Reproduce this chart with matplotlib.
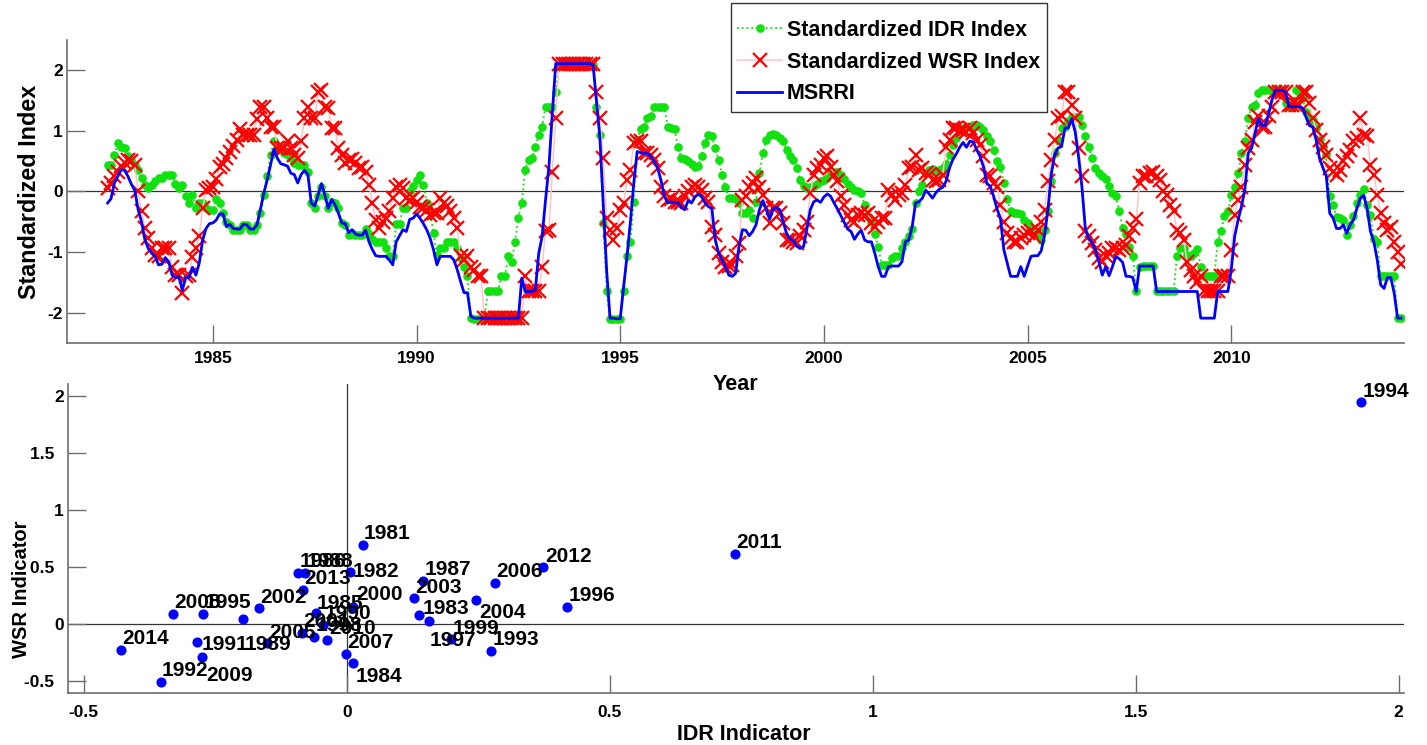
import numpy as np
import pandas as pd
import matplotlib
matplotlib.use('Agg')
import matplotlib.pyplot as plt
from matplotlib.patches import Rectangle

plt.rcParams['font.family'] = ['Liberation Sans', 'DejaVu Sans']
plt.rcParams['font.weight'] = 'bold'
plt.rcParams['axes.unicode_minus'] = False

# monthly series, June 1982 -> March 2014
msrri = [
    -0.19, -0.12, 0.14, 0.25, 0.36, 0.35, 0.25, 0.12, 0.02, -0.30,
    -0.50, -0.80, -0.94, -1.02, -1.07, -1.21, -1.20, -1.09, -1.16, -1.38,
    -1.42, -1.40, -1.63, -1.42, -1.42, -1.25, -1.38, -1.18, -0.80, -0.61,
    -0.53, -0.52, -0.47, -0.37, -0.37, -0.58, -0.54, -0.61, -0.62, -0.62,
    -0.54, -0.55, -0.62, -0.62, -0.55, -0.30, -0.03, 0.19, 0.44, 0.70,
    0.55, 0.46, 0.44, 0.42, 0.30, 0.28, 0.14, 0.28, 0.35, 0.28,
    -0.19, -0.24, -0.06, 0.13, -0.06, -0.28, -0.13, -0.22, -0.36, -0.52,
    -0.53, -0.68, -0.63, -0.70, -0.72, -0.72, -0.64, -0.83, -0.96, -1.06,
    -1.07, -1.07, -1.07, -1.13, -1.21, -0.83, -0.73, -0.63, -0.66, -0.46,
    -0.44, -0.37, -0.44, -0.53, -0.63, -0.77, -0.96, -1.21, -1.07, -1.07,
    -1.07, -1.07, -1.13, -1.29, -1.49, -1.67, -1.67, -2.06, -2.09, -2.09,
    -2.09, -2.09, -2.09, -2.09, -2.09, -2.09, -2.09, -2.09, -2.09, -2.09,
    -2.09, -2.09, -1.43, -1.65, -1.65, -1.65, -1.63, -1.02, -0.74, -0.14,
    0.41, 1.29, 2.11, 2.11, 2.11, 2.11, 2.11, 2.11, 2.11, 2.11,
    2.11, 2.11, 2.11, 2.09, 1.50, 0.90, -0.20, -1.30, -2.09, -2.09,
    -2.10, -2.10, -1.57, -1.07, -0.50, 0.14, 0.66, 0.64, 0.63, 0.63,
    0.58, 0.50, 0.39, 0.19, -0.08, -0.19, -0.17, -0.19, -0.18, -0.26,
    -0.30, -0.15, -0.19, -0.09, -0.04, -0.09, -0.19, -0.25, -0.28, -0.80,
    -1.02, -1.13, -1.24, -1.38, -1.40, -1.35, -0.91, -0.63, -0.64, -0.73,
    -0.66, -0.55, -0.30, -0.15, -0.29, -0.46, -0.29, -0.26, -0.30, -0.50,
    -0.69, -0.78, -0.81, -0.90, -0.94, -0.91, -0.61, -0.30, -0.17, -0.14,
    -0.18, -0.09, -0.04, -0.08, -0.19, -0.29, -0.40, -0.51, -0.62, -0.66,
    -0.79, -0.70, -0.64, -0.80, -0.83, -0.83, -1.02, -1.24, -1.40, -1.40,
    -1.24, -1.23, -1.23, -1.23, -1.16, -0.83, -0.80, -0.58, -0.19, -0.17,
    -0.11, 0.02, -0.04, -0.11, -0.02, 0.04, 0.07, 0.17, 0.39, 0.53,
    0.62, 0.73, 0.81, 0.73, 0.83, 0.82, 0.69, 0.58, 0.41, 0.13,
    0.09, -0.08, -0.29, -0.44, -0.96, -1.18, -1.40, -1.40, -1.40, -1.24,
    -1.40, -1.23, -1.07, -1.06, -1.06, -0.98, -0.72, -0.30, 0.30, 0.61,
    0.72, 0.74, 1.05, 1.05, 1.20, 0.99, 0.58, 0.08, -0.61, -0.77,
    -0.84, -0.96, -1.16, -1.38, -1.24, -1.39, -1.24, -1.07, -1.11, -1.17,
    -1.40, -1.40, -1.42, -1.65, -1.23, -1.23, -1.23, -1.23, -1.23, -1.65,
    -1.65, -1.65, -1.65, -1.65, -1.65, -1.65, -1.65, -1.65, -1.65, -1.65,
    -1.65, -1.65, -2.09, -2.09, -2.09, -2.09, -2.09, -1.65, -1.65, -1.65,
    -1.65, -1.29, -0.74, -0.47, -0.25, 0.03, 0.63, 0.72, 0.96, 1.21,
    1.09, 1.09, 1.28, 1.52, 1.67, 1.67, 1.67, 1.64, 1.40, 1.40,
    1.40, 1.40, 1.38, 1.23, 1.09, 1.06, 0.85, 0.55, 0.39, 0.25,
    -0.36, -0.44, -0.61, -0.61, -0.55, -0.69, -0.55, -0.47, -0.28, -0.11,
    -0.06, -0.28, -0.66, -0.83, -1.13, -1.54, -1.60, -1.42, -1.42, -1.68,
    -2.09, -2.09,
]

idr = [
    0.44, 0.44, 0.60, 0.80, 0.74, 0.72, 0.58, 0.52, 0.44, 0.36,
    0.22, 0.10, 0.06, 0.10, 0.17, 0.22, 0.22, 0.27, 0.27, 0.27,
    0.13, 0.06, 0.11, -0.08, -0.19, -0.06, -0.28, -0.19, -0.19, -0.28,
    -0.30, -0.30, -0.13, -0.19, -0.36, -0.50, -0.55, -0.63, -0.63, -0.63,
    -0.55, -0.55, -0.63, -0.63, -0.55, -0.36, -0.06, 0.25, 0.61, 0.83,
    0.72, 0.72, 0.63, 0.61, 0.55, 0.47, 0.44, 0.44, 0.44, 0.33,
    -0.19, -0.28, -0.08, 0.08, -0.08, -0.28, -0.17, -0.19, -0.28, -0.52,
    -0.55, -0.72, -0.69, -0.72, -0.72, -0.72, -0.62, -0.70, -0.79, -0.83,
    -0.83, -0.83, -0.94, -1.06, -1.07, -0.53, -0.53, -0.28, -0.28, 0.00,
    0.09, 0.19, 0.28, 0.11, -0.19, -0.33, -0.69, -1.05, -0.94, -0.94,
    -0.83, -0.83, -0.83, -0.94, -1.09, -1.24, -1.40, -2.09, -2.10, -2.10,
    -2.10, -2.10, -1.65, -1.65, -1.65, -1.65, -1.40, -1.40, -1.07, -1.17,
    -0.83, -0.44, -0.19, 0.36, 0.52, 0.55, 0.73, 0.94, 1.07, 1.40,
    1.40, 1.40, 1.65, 2.09, 2.09, 2.09, 2.09, 2.09, 2.09, 2.09,
    2.09, 2.09, 2.09, 2.09, 1.40, 0.94, -0.52, -1.65, -2.11, -2.11,
    -2.10, -2.10, -1.65, -1.07, -0.83, -0.17, 0.85, 1.03, 1.06, 1.21,
    1.24, 1.40, 1.40, 1.40, 1.40, 1.07, 1.05, 1.03, 0.74, 0.55,
    0.53, 0.51, 0.46, 0.41, 0.42, 0.58, 0.80, 0.94, 0.91, 0.72,
    0.52, 0.28, 0.08, -0.11, -0.11, -0.13, -0.19, -0.36, -0.36, -0.31,
    -0.44, -0.17, 0.30, 0.63, 0.85, 0.94, 0.95, 0.94, 0.88, 0.83,
    0.69, 0.59, 0.52, 0.39, 0.19, 0.09, 0.06, 0.07, 0.09, 0.13,
    0.17, 0.19, 0.22, 0.29, 0.33, 0.33, 0.28, 0.20, 0.13, 0.07,
    0.03, 0.00, -0.03, -0.22, -0.41, -0.50, -0.70, -0.91, -1.21, -1.21,
    -1.21, -1.10, -1.07, -1.07, -0.94, -0.83, -0.74, -0.62, -0.19, 0.00,
    0.11, 0.31, 0.36, 0.37, 0.34, 0.36, 0.39, 0.46, 0.61, 0.77,
    0.88, 0.99, 1.05, 1.07, 1.07, 1.10, 1.09, 1.07, 1.01, 0.91,
    0.84, 0.68, 0.51, 0.40, 0.14, -0.13, -0.33, -0.35, -0.35, -0.37,
    -0.47, -0.52, -0.60, -0.68, -0.70, -0.80, -0.63, -0.33, 0.17, 0.63,
    0.85, 1.05, 1.07, 1.16, 1.23, 1.23, 1.23, 1.10, 0.91, 0.73,
    0.55, 0.39, 0.30, 0.25, 0.20, 0.09, -0.02, -0.07, -0.33, -0.61,
    -0.70, -0.91, -1.07, -1.65, -1.24, -1.23, -1.23, -1.23, -1.23, -1.65,
    -1.65, -1.64, -1.65, -1.65, -1.65, -1.07, -0.94, -0.94, -1.05, -1.07,
    -1.02, -0.95, -1.24, -1.40, -1.40, -1.40, -1.40, -0.83, -0.66, -0.41,
    -0.33, -0.06, 0.08, 0.30, 0.63, 0.83, 1.21, 1.40, 1.42, 1.63,
    1.67, 1.67, 1.67, 1.67, 1.65, 1.65, 1.64, 1.46, 1.40, 1.40,
    1.67, 1.65, 1.54, 1.32, 1.23, 1.18, 1.05, 0.87, 0.74, 0.61,
    -0.08, -0.22, -0.42, -0.44, -0.47, -0.72, -0.55, -0.41, -0.19, -0.06,
    0.04, -0.22, -0.39, -0.79, -0.83, -1.40, -1.40, -1.40, -1.40, -1.40,
    -2.09, -2.09,
]

wsr = [
    0.06, 0.14, 0.25, 0.33, 0.42, 0.47, 0.52, 0.50, 0.44, 0.00,
    -0.33, -0.60, -0.77, -0.94, -1.05, -1.07, -0.94, -0.94, -0.94, -1.25,
    -1.38, -1.38, -1.68, -1.40, -1.38, -1.08, -0.94, -0.74, -0.28, 0.03,
    0.06, 0.08, 0.20, 0.41, 0.46, 0.55, 0.66, 0.75, 0.85, 1.03,
    0.94, 0.94, 0.94, 0.94, 1.19, 1.40, 1.40, 1.21, 1.07, 1.07,
    0.72, 0.72, 0.72, 0.83, 0.72, 0.61, 0.55, 0.83, 1.21, 1.40,
    1.21, 1.21, 1.65, 1.67, 1.40, 1.38, 1.05, 1.05, 0.72, 0.61,
    0.47, 0.52, 0.53, 0.47, 0.39, 0.40, 0.33, 0.11, -0.19, -0.47,
    -0.61, -0.50, -0.44, -0.33, -0.11, 0.08, 0.11, 0.06, -0.11, -0.14,
    -0.11, -0.17, -0.25, -0.28, -0.30, -0.39, -0.36, -0.36, -0.11, -0.19,
    -0.24, -0.33, -0.44, -0.61, -1.07, -1.13, -1.07, -1.24, -1.29, -1.40,
    -1.40, -2.09, -2.09, -2.09, -2.09, -2.09, -2.09, -2.09, -2.09, -2.09,
    -2.09, -2.09, -2.09, -1.40, -1.65, -1.65, -1.65, -1.65, -1.24, -0.66,
    -0.63, 0.33, 1.21, 2.11, 2.11, 2.11, 2.11, 2.11, 2.11, 2.11,
    2.11, 2.11, 2.11, 2.11, 1.65, 1.21, 0.55, -0.44, -0.63, -0.80,
    -0.61, -0.30, -0.19, 0.19, 0.36, 0.80, 0.83, 0.83, 0.63, 0.63,
    0.61, 0.52, 0.39, 0.08, -0.08, -0.14, -0.13, -0.17, -0.17, -0.19,
    -0.08, 0.00, 0.08, 0.11, 0.08, 0.03, -0.11, -0.17, -0.58, -0.72,
    -1.02, -1.16, -1.24, -1.23, -1.21, -1.07, -0.85, -0.14, -0.08, 0.08,
    0.14, 0.22, 0.08, -0.06, -0.28, -0.52, -0.28, -0.28, -0.36, -0.52,
    -0.80, -0.80, -0.83, -0.85, -0.74, -0.63, -0.50, -0.03, 0.28, 0.39,
    0.44, 0.55, 0.58, 0.41, 0.28, 0.17, -0.08, -0.22, -0.39, -0.47,
    -0.50, -0.39, -0.36, -0.39, -0.36, -0.52, -0.58, -0.50, -0.44, -0.44,
    0.03, -0.06, -0.14, -0.06, -0.03, 0.11, 0.39, 0.41, 0.61, 0.36,
    0.39, 0.30, 0.28, 0.19, 0.17, 0.19, 0.28, 0.74, 0.85, 1.05,
    1.05, 1.02, 1.02, 0.99, 1.05, 0.96, 0.85, 0.77, 0.58, 0.28,
    0.25, 0.14, 0.08, -0.22, -0.50, -0.69, -0.77, -0.83, -0.83, -0.77,
    -0.72, -0.69, -0.66, -0.74, -0.63, -0.50, -0.30, 0.17, 0.52, 0.85,
    1.21, 1.24, 1.65, 1.65, 1.43, 1.21, 0.72, 0.25, -0.66, -0.74,
    -0.85, -0.96, -1.10, -1.16, -1.07, -1.02, -0.94, -0.94, -0.96, -0.94,
    -0.88, -0.74, -0.61, -0.45, 0.14, 0.25, 0.25, 0.30, 0.33, 0.25,
    0.19, 0.00, -0.06, -0.22, -0.33, -0.63, -0.69, -0.80, -1.16, -1.29,
    -1.40, -1.49, -1.40, -1.65, -1.65, -1.65, -1.65, -1.65, -1.40, -1.40,
    -1.40, -0.96, -0.39, -0.14, 0.08, 0.44, 0.72, 0.85, 1.15, 1.24,
    1.07, 1.07, 1.24, 1.40, 1.65, 1.65, 1.65, 1.65, 1.43, 1.43,
    1.43, 1.43, 1.65, 1.65, 1.46, 1.21, 1.02, 0.85, 0.74, 0.61,
    0.39, 0.33, 0.28, 0.36, 0.50, 0.58, 0.69, 0.83, 0.88, 1.21,
    0.94, 0.91, 0.44, 0.28, -0.06, -0.36, -0.52, -0.63, -0.58, -0.83,
    -1.00, -1.20,
]

# yearly indicators
years = list(range(1981, 2015))
idr_ind = [0.03, 0.007, 0.137, 0.012, -0.059, -0.092, 0.145, -0.079, -0.197, -0.045,
           -0.285, -0.354, 0.274, 1.928, -0.273, 0.419, 0.156, -0.063, 0.199, 0.011,
           -0.086, -0.167, 0.127, 0.245, -0.151, 0.282, -0.002, -0.330, -0.276, -0.037,
           0.738, 0.374, -0.084, -0.430]
wsr_ind = [0.696, 0.46, 0.081, -0.336, 0.10, 0.45, 0.38, 0.45, 0.046, -0.006,
           -0.155, -0.505, -0.234, 1.945, 0.093, 0.154, 0.029, -0.108, -0.131, 0.149,
           -0.073, 0.14, 0.227, 0.213, -0.166, 0.364, -0.26, 0.093, -0.289, -0.137,
           0.615, 0.499, 0.30, -0.222]

# label offsets in pixels (right, up); default sits just above the dot
default_offset = (1.5, 5.5)
label_offsets = {1982: (2.6, -5.5), 1983: (4, 0.5), 1984: (2.7, -19.8),
                 1985: (1.3, 3.5), 1989: (1.7, -31.2), 1991: (5, -8.2),
                 1997: (0.7, -25.2), 2000: (4, 7.3), 2004: (3.3, -18),
                 2009: (4.7, -23.5)}

dates = pd.date_range('1982-06-01', periods=len(msrri), freq='MS')
t = dates.year + (dates.month - 1) / 12.0

W, H = 1427, 745
fig = plt.figure(figsize=(W / 100, H / 100), dpi=100)
ax1 = fig.add_axes([67 / W, 1 - 343 / H, 1337 / W, 303 / H])
ax2 = fig.add_axes([68 / W, 1 - 692.7 / H, 1336 / W, 308.4 / H])
ax2.patch.set_visible(False)

spine_col = '#6e6e6e'
for ax in (ax1, ax2):
    for s in ('top', 'right'):
        ax.spines[s].set_visible(False)
    for s in ('left', 'bottom'):
        ax.spines[s].set_color(spine_col)
        ax.spines[s].set_linewidth(1.2)
    ax.tick_params(direction='in', length=13, width=1, color=spine_col,
                   labelsize=12.5)
ax1.tick_params(axis='x', pad=6)
ax1.tick_params(axis='y', pad=3)
ax2.tick_params(axis='x', pad=9)
ax2.tick_params(axis='y', pad=3)

# top panel
ax1.axhline(0, color='#333333', lw=0.9, zorder=1)
ax1.plot(t, idr, color='#11e011', ls=':', lw=1.3, marker='o', ms=5.2,
         mec='#11e011', label='Standardized IDR Index', zorder=2)
ax1.plot(t, wsr, color='#ffc4c4', lw=1.1, marker='x', ms=9.5, mec='red',
         mew=1.6, label='Standardized WSR Index', zorder=3)
ax1.plot(t, msrri, color='blue', lw=2.0, label='MSRRI', zorder=4)
ax1.set_xlim(1981.42, 2014.24)
ax1.set_ylim(-2.5, 2.5)
ax1.set_yticks([-2, -1, 0, 1, 2])
ax1.set_xticks([1985, 1990, 1995, 2000, 2005, 2010])
ax1.set_xlabel('Year', fontsize=15.5, fontweight='bold')
ax1.set_ylabel('Standardized Index', fontsize=16.8, fontweight='bold')
ax1.xaxis.set_label_coords(0.5, -0.102)
ax1.yaxis.set_label_coords(-0.0195, 0.5)

# legend with a MATLAB-like box
leg_box = Rectangle((731 / W, 1 - 112 / H), 316 / W, 109 / H,
                    transform=fig.transFigure, facecolor='white',
                    edgecolor='#333333', lw=1.0, zorder=8, clip_on=False)
ax1.add_patch(leg_box)
leg = ax1.legend(loc='upper left', bbox_to_anchor=(737 / W, 1 - 20 / H),
                 bbox_transform=fig.transFigure, borderaxespad=0,
                 fontsize=15.5, frameon=False, handlelength=2.1,
                 handletextpad=0.2, labelspacing=0.49, borderpad=0)
leg.set_zorder(9)
for txt in leg.get_texts():
    txt.set_fontweight('bold')

# bottom panel
ax2.axhline(0, color='#333333', lw=0.9, zorder=1)
ax2.axvline(0, color='#333333', lw=0.9, zorder=1)
ax2.plot(idr_ind, wsr_ind, 'o', color='blue', ms=6.3, zorder=3)
for yr, xv, yv in zip(years, idr_ind, wsr_ind):
    off = label_offsets.get(yr, default_offset)
    ax2.annotate(str(yr), (xv, yv), xytext=off, textcoords='offset pixels',
                 fontsize=15, fontweight='bold', ha='left', va='baseline',
                 zorder=4)
ax2.set_xlim(-0.53, 2.01)
ax2.set_ylim(-0.6, 2.1)
ax2.set_xticks([-0.5, 0, 0.5, 1, 1.5, 2])
ax2.set_xticklabels(['-0.5', '0', '0.5', '1', '1.5', '2'])
ax2.set_yticks([-0.5, 0, 0.5, 1, 1.5, 2])
ax2.set_yticklabels(['-0.5  ', '0', '0.5  ', '1', '1.5  ', '2'])
ax2.set_xlabel('IDR Indicator', fontsize=15.5, fontweight='bold')
ax2.set_ylabel('WSR Indicator', fontsize=14.5, fontweight='bold')
ax2.xaxis.set_label_coords(0.506, -0.1015)
ax2.yaxis.set_label_coords(-0.0277, 0.336)

fig.savefig('out.png', dpi=100)
